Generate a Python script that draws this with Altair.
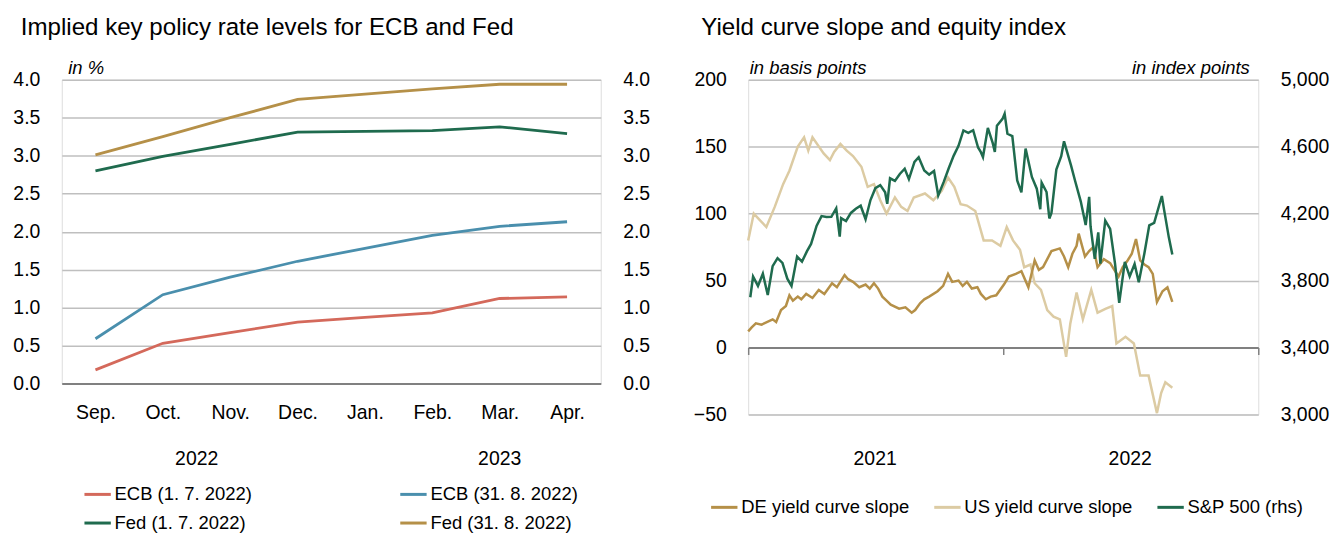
import altair as alt
import pandas as pd

# ---------------- Left chart data ----------------
months = ["Sep.", "Oct.", "Nov.", "Dec.", "Jan.", "Feb.", "Mar.", "Apr."]
ecb_jul = [0.18, 0.53, 0.67, 0.81, 0.87, 0.93, 1.12, 1.14]
ecb_aug = [0.59, 1.17, 1.40, 1.61, 1.78, 1.95, 2.07, 2.13]
fed_jul = [2.80, 2.99, 3.15, 3.31, 3.32, 3.33, 3.38, 3.29]
fed_aug = [3.01, 3.25, 3.50, 3.74, 3.81, 3.88, 3.94, 3.94]
left_series = ["ECB (1. 7. 2022)", "ECB (31. 8. 2022)", "Fed (1. 7. 2022)", "Fed (31. 8. 2022)"]
left_colors = ["#D4695B", "#4A8FAD", "#1F6B4E", "#B59048"]
left_ticks = [0, 0.5, 1, 1.5, 2, 2.5, 3, 3.5, 4]

# ---------------- Right chart data ----------------
de_dates = ["2021-01-01", "2021-01-06", "2021-01-12", "2021-01-20", "2021-02-05", "2021-02-10",
            "2021-02-17", "2021-02-24", "2021-03-01", "2021-03-06", "2021-03-13", "2021-03-18",
            "2021-03-25", "2021-04-03", "2021-04-12", "2021-04-20", "2021-05-01", "2021-05-08",
            "2021-05-19", "2021-05-24", "2021-05-31", "2021-06-09", "2021-06-18", "2021-06-24",
            "2021-06-30", "2021-07-06", "2021-07-12", "2021-07-18", "2021-07-24", "2021-08-05",
            "2021-08-14", "2021-08-23", "2021-08-28", "2021-09-04", "2021-09-10", "2021-09-17",
            "2021-09-29", "2021-10-07", "2021-10-14", "2021-10-20", "2021-10-29", "2021-11-04",
            "2021-11-10", "2021-11-17", "2021-11-25", "2021-11-30", "2021-12-07", "2021-12-14",
            "2021-12-22", "2022-01-02", "2022-01-09", "2022-01-19", "2022-01-27", "2022-02-06",
            "2022-02-15", "2022-02-21", "2022-02-27", "2022-03-05", "2022-03-11", "2022-03-23",
            "2022-03-29", "2022-04-04", "2022-04-10", "2022-04-16", "2022-04-19", "2022-04-28",
            "2022-05-04", "2022-05-10", "2022-05-16", "2022-05-25", "2022-06-03", "2022-06-09",
            "2022-06-15", "2022-06-21", "2022-06-28", "2022-07-04", "2022-07-10", "2022-07-16",
            "2022-07-22", "2022-07-28", "2022-08-03", "2022-08-09", "2022-08-17", "2022-08-24",
            "2022-08-31"]
de_vals = [12, 15, 18, 17, 21, 19, 28, 31, 39, 35, 38, 36,
           40, 37, 43, 40, 48, 45, 54, 51, 49, 45, 47, 44,
           48, 44, 38, 35, 32, 29, 30, 26, 28, 33, 36, 38,
           42, 46, 55, 49, 50, 46, 49, 44, 45, 40, 36, 38,
           39, 47, 53, 55, 57, 45, 65, 58, 60, 66, 72, 74,
           68, 60, 70, 76, 85, 68, 72, 75, 60, 66, 63, 58,
           53, 60, 65, 70, 81, 65, 62, 60, 55, 34, 42, 45,
           34]

us_dates = ["2021-01-01", "2021-01-09", "2021-01-18", "2021-01-27", "2021-02-08", "2021-02-20",
            "2021-03-01", "2021-03-13", "2021-03-22", "2021-03-28", "2021-04-03", "2021-04-19",
            "2021-04-28", "2021-05-04", "2021-05-13", "2021-05-22", "2021-05-31", "2021-06-12",
            "2021-06-21", "2021-06-30", "2021-07-09", "2021-07-18", "2021-07-30", "2021-08-08",
            "2021-08-17", "2021-08-26", "2021-09-11", "2021-09-23", "2021-10-05", "2021-10-14",
            "2021-10-23", "2021-11-01", "2021-11-10", "2021-11-22", "2021-12-04", "2021-12-16",
            "2021-12-28", "2022-01-06", "2022-01-15", "2022-01-25", "2022-01-31", "2022-02-09",
            "2022-02-15", "2022-02-24", "2022-03-05", "2022-03-14", "2022-03-23", "2022-04-01",
            "2022-04-07", "2022-04-16", "2022-04-25", "2022-05-07", "2022-05-16", "2022-05-28",
            "2022-06-06", "2022-06-12", "2022-06-25", "2022-07-07", "2022-07-16", "2022-07-28",
            "2022-08-09", "2022-08-15", "2022-08-21", "2022-08-31"]
us_vals = [80, 100, 95, 90, 105, 122, 132, 150, 157, 147, 157, 145,
           140, 146, 152, 147, 143, 135, 120, 122, 110, 100, 112, 105,
           102, 112, 115, 110, 117, 127, 120, 107, 106, 102, 80, 80,
           76, 90, 80, 73, 60, 62, 48, 43, 28, 23, 21, -7,
           18, 41, 21, 43, 26, 29, 31, 3, 8, 3, -21, -21,
           -49, -34, -26, -30]

spx_dates = ["2021-01-04", "2021-01-08", "2021-01-15", "2021-01-22", "2021-01-29", "2021-02-05",
             "2021-02-12", "2021-02-19", "2021-02-26", "2021-03-04", "2021-03-12", "2021-03-19",
             "2021-03-26", "2021-04-01", "2021-04-09", "2021-04-16", "2021-04-23", "2021-04-30",
             "2021-05-07", "2021-05-12", "2021-05-14", "2021-05-21", "2021-05-28", "2021-06-04",
             "2021-06-11", "2021-06-18", "2021-06-25", "2021-07-02", "2021-07-09", "2021-07-16",
             "2021-07-19", "2021-07-23", "2021-07-30", "2021-08-06", "2021-08-13", "2021-08-19",
             "2021-08-27", "2021-09-02", "2021-09-10", "2021-09-17", "2021-09-24", "2021-09-30",
             "2021-10-08", "2021-10-15", "2021-10-22", "2021-10-29", "2021-11-05", "2021-11-12",
             "2021-11-19", "2021-11-26", "2021-11-30", "2021-12-03", "2021-12-10", "2021-12-17",
             "2021-12-20", "2021-12-23", "2021-12-31", "2022-01-03", "2022-01-07", "2022-01-14",
             "2022-01-21", "2022-01-27", "2022-02-02", "2022-02-11", "2022-02-18", "2022-02-23",
             "2022-02-25", "2022-03-04", "2022-03-08", "2022-03-11", "2022-03-18", "2022-03-25",
             "2022-03-29", "2022-04-08", "2022-04-14", "2022-04-22", "2022-04-29", "2022-05-04",
             "2022-05-06", "2022-05-12", "2022-05-17", "2022-05-20", "2022-05-27", "2022-06-03",
             "2022-06-10", "2022-06-16", "2022-06-24", "2022-07-01", "2022-07-08", "2022-07-14",
             "2022-07-22", "2022-07-29", "2022-08-05", "2022-08-16", "2022-08-19", "2022-08-26",
             "2022-08-31"]
spx_vals = [3700, 3824, 3768, 3841, 3714, 3886,
            3934, 3906, 3811, 3768, 3943, 3913,
            3974, 4019, 4128, 4185, 4180, 4181,
            4232, 4063, 4173, 4156, 4204, 4229,
            4247, 4166, 4281, 4352, 4370, 4327,
            4258, 4411, 4395, 4437, 4468, 4406,
            4509, 4537, 4458, 4433, 4455, 4308,
            4391, 4471, 4545, 4605, 4697, 4682,
            4698, 4595, 4567, 4538, 4712, 4621,
            4568, 4725, 4766, 4797, 4677, 4663,
            4398, 4327, 4589, 4419, 4349, 4226,
            4385, 4329, 4171, 4204, 4463, 4543,
            4632, 4488, 4393, 4272, 4132, 4300,
            4123, 3930, 4088, 3901, 4158, 4109,
            3901, 3667, 3912, 3825, 3899, 3790,
            3962, 4130, 4145, 4305, 4228, 4058,
            3955]
right_series = ["DE yield curve slope", "US yield curve slope", "S&P 500 (rhs)"]
right_colors = ["#B59048", "#DCCBA3", "#1F6B4E"]
bp_ticks = [-50, 0, 50, 100, 150, 200]
idx_ticks = [3000, 3400, 3800, 4200, 4600, 5000]

FONT = "Liberation Sans, Arial, sans-serif"
FS = 19.5
LEG_FS = 18.5
SUB_FS = 18.5
GRID = "#BFBFBF"
DARK = "#808080"

# ---------------- Left chart ----------------
LW, LH = 541, 305
left_df = pd.DataFrame({
    "month": months * 4,
    "series": [s for s in left_series for _ in months],
    "value": ecb_jul + ecb_aug + fed_jul + fed_aug,
})

xL = alt.X("month:N", sort=months, title=None,
           scale=alt.Scale(type="point", padding=0.5),
           axis=alt.Axis(orient="bottom", labelAngle=0, ticks=False, domain=True,
                         domainColor=DARK, domainWidth=2, grid=False, labelFont=FONT,
                         labelFontSize=FS, labelColor="black", labelPadding=20))

left_lines = alt.Chart(left_df).mark_line(strokeWidth=2.8).encode(
    x=xL,
    y=alt.Y("value:Q", scale=alt.Scale(domain=[0, 4]),
            axis=alt.Axis(values=left_ticks, format=".1f", ticks=False, domain=False,
                          grid=True, gridColor=GRID, gridWidth=1.5, labelPadding=22,
                          labelFont=FONT, labelFontSize=FS, labelColor="black",
                          title="in %", titleAngle=0, titleX=6, titleY=-2,
                          titleAlign="left", titleBaseline="bottom", titleFont=FONT,
                          titleFontSize=SUB_FS, titleFontStyle="italic",
                          titleFontWeight="normal", titleColor="black")),
    color=alt.Color("series:N", scale=alt.Scale(domain=left_series, range=left_colors),
                    legend=alt.Legend(orient="none", legendX=21, legendY=401, columns=2,
                                      direction="horizontal", title=None,
                                      symbolType="stroke", symbolSize=700,
                                      symbolStrokeWidth=3, labelFont=FONT,
                                      labelFontSize=LEG_FS, labelColor="black",
                                      labelLimit=400, labelOffset=2, columnPadding=142,
                                      rowPadding=4)),
)

left_right_axis = alt.Chart(left_df).mark_line(opacity=0).encode(
    x=xL,
    y=alt.Y("value:Q", scale=alt.Scale(domain=[0, 4]),
            axis=alt.Axis(orient="right", values=left_ticks, format=".1f", ticks=False,
                          domain=False, grid=False, labelPadding=22, labelFont=FONT,
                          labelFontSize=FS, labelColor="black", title=None)),
    detail="series:N",
)

year2022 = alt.Chart(pd.DataFrame({"month": ["Oct."], "year": ["2022"]})).mark_text(
    dx=34, baseline="middle", font=FONT, fontSize=FS, color="black").encode(
    x=xL, y=alt.value(LH + 76), text="year:N")
year2023 = alt.Chart(pd.DataFrame({"month": ["Mar."], "year": ["2023"]})).mark_text(
    dx=0, baseline="middle", font=FONT, fontSize=FS, color="black").encode(
    x=xL, y=alt.value(LH + 76), text="year:N")

left = alt.layer(left_lines, left_right_axis, year2022, year2023).resolve_scale(
    y="independent").properties(
    width=LW, height=LH,
    title=alt.TitleParams("Implied key policy rate levels for ECB and Fed", anchor="start",
                          font=FONT, fontSize=24.2, fontWeight="normal", color="black",
                          dx=8, offset=19))

# ---------------- Right chart ----------------
RW, RH = 512, 336
us_df = pd.DataFrame({"date": us_dates, "series": right_series[1], "value": us_vals})
de_df = pd.DataFrame({"date": de_dates, "series": right_series[0], "value": de_vals})
spx_df = pd.DataFrame({"date": spx_dates, "series": right_series[2], "value": spx_vals})

xscale = alt.Scale(type="utc", domain=[alt.DateTime(year=2021, month=1, date=1, utc=True),
                                       alt.DateTime(year=2023, month=1, date=1, utc=True)])
year_starts = [alt.DateTime(year=y, month=1, date=1, utc=True) for y in (2021, 2022, 2023)]
mid_years = [alt.DateTime(year=y, month=7, date=1, utc=True) for y in (2021, 2022)]

rcolor_legend = alt.Legend(orient="none", legendX=-39, legendY=414, direction="horizontal",
                           title=None, symbolType="stroke", symbolSize=700,
                           symbolStrokeWidth=3, labelFont=FONT, labelFontSize=LEG_FS,
                           labelColor="black", labelLimit=400, labelOffset=2,
                           columnPadding=18)
rcolor = alt.Color("series:N", scale=alt.Scale(domain=right_series, range=right_colors),
                   legend=rcolor_legend)

bp_axis = alt.Axis(values=bp_ticks, ticks=False, domain=False, grid=True, gridColor=GRID,
                   gridWidth=1.5, labelPadding=22, labelFont=FONT, labelFontSize=FS,
                   labelColor="black", title="in basis points", titleAngle=0, titleX=1,
                   titleY=-2, titleAlign="left", titleBaseline="bottom", titleFont=FONT,
                   titleFontSize=SUB_FS, titleFontStyle="italic", titleFontWeight="normal",
                   titleColor="black")

us_line = alt.Chart(us_df).mark_line(strokeWidth=2.5).encode(
    x=alt.X("date:T", scale=xscale, title=None,
            axis=alt.Axis(orient="bottom", values=year_starts, labels=False, ticks=True,
                          tickSize=7, tickColor=DARK, tickWidth=1.5, domain=True,
                          domainColor=DARK, domainWidth=2, grid=False,
                          offset=-0.2 * RH)),
    y=alt.Y("value:Q", scale=alt.Scale(domain=[-50, 200]), axis=bp_axis),
    color=rcolor,
)

de_line = alt.Chart(de_df).mark_line(strokeWidth=2.5).encode(
    x=alt.X("date:T", scale=xscale, title=None,
            axis=alt.Axis(orient="bottom", values=mid_years, format="%Y", labels=True,
                          ticks=False, domain=False, grid=False, labelPadding=35,
                          labelFont=FONT, labelFontSize=FS, labelColor="black")),
    y=alt.Y("value:Q", scale=alt.Scale(domain=[-50, 200]), axis=None),
    color=rcolor,
)

spx_line = alt.Chart(spx_df).mark_line(strokeWidth=2.5).encode(
    x=alt.X("date:T", scale=xscale, title=None, axis=None),
    y=alt.Y("value:Q", scale=alt.Scale(domain=[3000, 5000]),
            axis=alt.Axis(orient="right", values=idx_ticks, format=",.0f", ticks=False,
                          domain=False, grid=False, labelPadding=22, labelFont=FONT,
                          labelFontSize=FS, labelColor="black", title="in index points",
                          titleAngle=0, titleX=-9, titleY=-2, titleAlign="right",
                          titleBaseline="bottom", titleFont=FONT, titleFontSize=SUB_FS,
                          titleFontStyle="italic", titleFontWeight="normal",
                          titleColor="black")),
    color=rcolor,
)

right = alt.layer(us_line, de_line, spx_line).resolve_scale(y="independent").resolve_axis(
    x="independent").properties(
    width=RW, height=RH,
    title=alt.TitleParams("Yield curve slope and equity index", anchor="start",
                          font=FONT, fontSize=24.2, fontWeight="normal", color="black",
                          dx=8, offset=19))

chart = alt.hconcat(left, right, spacing=42).resolve_scale(color="independent").properties(
    padding={"left": 12, "top": 14, "right": 0, "bottom": 0}
).configure_view(stroke=None).configure(background="white")

chart.save("out.html", embed_options={"renderer": "svg", "actions": False})
